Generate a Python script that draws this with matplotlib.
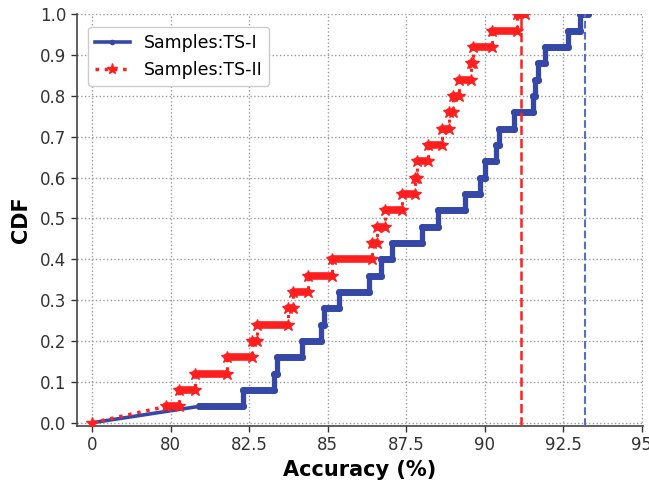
import matplotlib
matplotlib.use("Agg")
import matplotlib.pyplot as plt
from matplotlib.lines import Line2D

# ---- data ----
tick_values = [77.5, 80, 82.5, 85, 87.5, 90, 92.5, 95]
tick_labels = ["0", "80", "82.5", "85", "87.5", "90", "92.5", "95"]
origin_x = 77.5  # position of the tick labelled "0"

cdf_levels = [0.04, 0.08, 0.12, 0.16, 0.20, 0.24, 0.28, 0.32, 0.36, 0.40,
              0.44, 0.48, 0.52, 0.56, 0.60, 0.64, 0.68, 0.72, 0.76, 0.80,
              0.84, 0.88, 0.92, 0.96, 1.00]

# accuracy at which each CDF level starts (TS-I)
ts1_starts = [80.9, 82.3, 83.3, 83.4, 84.17, 84.78, 84.88, 85.36, 86.3, 86.7,
              87.05, 88.0, 88.5, 89.36, 89.86, 90.0, 90.35, 90.46, 90.93, 91.55,
              91.6, 91.7, 91.92, 92.65, 93.03]
ts1_end = 93.28
ts1_vline = 93.2

# accuracy at which each CDF level starts (TS-II)
ts2_starts = [79.86, 80.27, 80.77, 81.8, 82.6, 82.76, 83.72, 83.88, 84.38, 85.14,
              86.42, 86.58, 86.82, 87.37, 87.77, 87.83, 88.18, 88.64, 88.86, 88.98,
              89.18, 89.56, 89.62, 90.25, 91.02]
ts2_end = 91.28
ts2_vline = 91.17

y_ticks = [0.0, 0.1, 0.2, 0.3, 0.4, 0.5, 0.6, 0.7, 0.8, 0.9, 1.0]

labels = ["Samples:TS-I", "Samples:TS-II"]
blue = "#3548a8"
blue_v = "#5a6cc4"
red = "#ff1f1f"


def step_vertices(starts, end, levels):
    edges = list(starts) + [end]
    xs, ys = [], []
    for i, lv in enumerate(levels):
        xs += [edges[i], edges[i + 1]]
        ys += [lv, lv]
    return xs, ys


fig = plt.figure(figsize=(6.49, 4.8), dpi=100)
ax = fig.add_axes([0.118, 0.1125, 0.873, 0.858])

# TS-I
bx, by = step_vertices(ts1_starts, ts1_end, cdf_levels)
ax.plot([origin_x, ts1_starts[0]], [0, cdf_levels[0]], color=blue, lw=2.6,
        marker=".", markersize=6, markevery=[0], zorder=3)
ax.plot(bx, by, color=blue, lw=3.8, marker=".", markersize=8,
        solid_capstyle="round", solid_joinstyle="round", zorder=3)
ax.hlines(cdf_levels, ts1_starts, list(ts1_starts[1:]) + [ts1_end],
          color=blue, lw=5, capstyle="round", zorder=3)

# TS-II
rx, ry = step_vertices(ts2_starts, ts2_end, cdf_levels)
ax.plot([origin_x, ts2_starts[0]], [0, cdf_levels[0]], color=red, lw=2.5,
        linestyle=":", marker="*", markersize=9, markevery=[0], zorder=4)
ax.plot(rx, ry, color=red, lw=2.2, linestyle=":", marker="*", markersize=9,
        zorder=4)
ax.hlines(cdf_levels, ts2_starts, list(ts2_starts[1:]) + [ts2_end],
          color=red, lw=5.5, capstyle="round", zorder=4)

ax.axvline(ts2_vline, color=red, lw=1.8, linestyle="--", zorder=5)
ax.axvline(ts1_vline, color=blue_v, lw=1.5, linestyle="--", zorder=5)

ax.set_xlim(77.0, 95.05)
ax.set_ylim(-0.008, 1.0)
ax.set_xticks(tick_values)
ax.set_xticklabels(tick_labels)
ax.set_yticks(y_ticks)
ax.set_yticklabels([f"{v:.1f}" for v in y_ticks])
ax.tick_params(labelsize=12, colors="#333333", length=4, width=1)

ax.grid(True, linestyle=":", color="#9a9a9a", linewidth=1)
ax.set_axisbelow(True)
for s in ["top", "right"]:
    ax.spines[s].set_visible(False)
for s in ["left", "bottom"]:
    ax.spines[s].set_color("#444444")
    ax.spines[s].set_linewidth(1.2)

ax.set_xlabel("Accuracy (%)", fontsize=15, fontweight="bold", labelpad=4)
ax.set_ylabel("CDF", fontsize=15, fontweight="bold", labelpad=6)

handles = [
    Line2D([], [], color=blue, lw=2.6, marker=".", markersize=6),
    Line2D([], [], color=red, lw=2.5, linestyle=":", marker="*", markersize=8),
]
ax.legend(handles, labels, loc="upper left", fontsize=12.5,
          bbox_to_anchor=(0.005, 0.99), framealpha=1, edgecolor="#cccccc")

fig.savefig("out.png", dpi=100)
